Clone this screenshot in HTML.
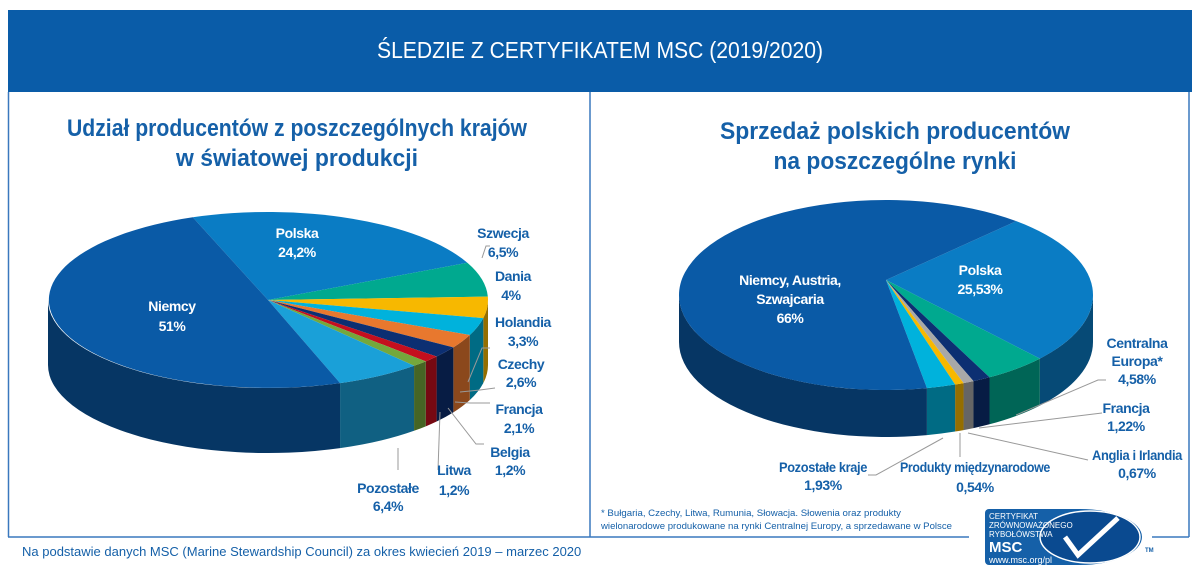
<!DOCTYPE html>
<html><head><meta charset="utf-8"><style>
html,body{margin:0;padding:0;background:#fff;width:1200px;height:574px;overflow:hidden}
svg{display:block}
text{font-family:"Liberation Sans Narrow","Liberation Sans",sans-serif;font-weight:bold}
.lb text{letter-spacing:-0.4px}
</style></head><body>
<svg id="s" width="1200" height="574" viewBox="0 0 1200 574" xmlns="http://www.w3.org/2000/svg">
<rect x="0" y="0" width="1200" height="574" fill="#fff"/>
<rect x="8" y="10" width="1184" height="82" fill="#0a5ca8"/>
<text x="600" y="58" fill="#fff" font-size="23" text-anchor="middle" textLength="446" lengthAdjust="spacingAndGlyphs" style="font-weight:normal">ŚLEDZIE Z CERTYFIKATEM MSC (2019/2020)</text>
<line x1="8.5" y1="92" x2="8.5" y2="537" stroke="#3a78be" stroke-width="1.5"/>
<line x1="1189" y1="92" x2="1189" y2="537" stroke="#3a78be" stroke-width="1.5"/>
<line x1="590" y1="92" x2="590" y2="537" stroke="#3a78be" stroke-width="1.5"/>
<line x1="8" y1="537" x2="969" y2="537" stroke="#3a78be" stroke-width="1.5"/>
<line x1="1152" y1="537" x2="1189" y2="537" stroke="#3a78be" stroke-width="1.5"/>
<g fill="#1560a8" font-size="24" text-anchor="middle">
<text x="297" y="136" textLength="460" lengthAdjust="spacingAndGlyphs">Udział producentów z poszczególnych krajów</text>
<text x="297" y="166" textLength="242" lengthAdjust="spacingAndGlyphs">w światowej produkcji</text>
<text x="895" y="139" textLength="350" lengthAdjust="spacingAndGlyphs">Sprzedaż polskich producentów</text>
<text x="895" y="169" textLength="243" lengthAdjust="spacingAndGlyphs">na poszczególne rynki</text>
</g>
<g id="p1"></g><g id="p2"></g>
<g stroke="#999" fill="none" stroke-width="1">
<polyline points="482,258 486,246 490,246"/>
<polyline points="468,382 482,348 490,348"/>
<polyline points="460,392 480,390 495,388"/>
<polyline points="455,402 470,403 490,403"/>
<polyline points="448,408 476,444 484,444"/>
<polyline points="440,412 438,470"/>
<polyline points="398,448 398,470"/>
<polyline points="1016,415 1098,380 1106,380"/>
<polyline points="979,428 1102,413"/>
<polyline points="968,433 1088,460"/>
<polyline points="943,438 876,475 868,475"/>
<polyline points="960,433 960,457"/>
</g>
<g class="lb" font-size="14" text-anchor="middle">
<g fill="#fff">
<text x="297" y="238">Polska</text><text x="297" y="257">24,2%</text>
<text x="172" y="311">Niemcy</text><text x="172" y="331">51%</text>
<text x="790" y="285">Niemcy, Austria,</text><text x="790" y="304">Szwajcaria</text><text x="790" y="323">66%</text>
<text x="980" y="275">Polska</text><text x="980" y="294">25,53%</text>
</g>
<g fill="#1560a8">
<text x="503" y="238">Szwecja</text><text x="503" y="257">6,5%</text>
<text x="513" y="281">Dania</text><text x="511" y="300">4%</text>
<text x="523" y="327">Holandia</text><text x="523" y="346">3,3%</text>
<text x="521" y="369">Czechy</text><text x="521" y="387">2,6%</text>
<text x="519" y="414">Francja</text><text x="519" y="433">2,1%</text>
<text x="510" y="457">Belgia</text><text x="510" y="475">1,2%</text>
<text x="454" y="475">Litwa</text><text x="454" y="495">1,2%</text>
<text x="388" y="493">Pozostałe</text><text x="388" y="511">6,4%</text>
<text x="1137" y="348">Centralna</text><text x="1137" y="366">Europa*</text><text x="1137" y="384">4,58%</text>
<text x="1126" y="413">Francja</text><text x="1126" y="431">1,22%</text>
<text x="1137" y="460" textLength="90" lengthAdjust="spacingAndGlyphs">Anglia i Irlandia</text><text x="1137" y="478">0,67%</text>
<text x="823" y="472" textLength="88" lengthAdjust="spacingAndGlyphs">Pozostałe kraje</text><text x="823" y="490">1,93%</text>
<text x="975" y="472" textLength="150" lengthAdjust="spacingAndGlyphs">Produkty międzynarodowe</text><text x="975" y="492">0,54%</text>
</g></g>
<g fill="#1560a8" font-size="9.5">
<text x="601" y="516" textLength="300" lengthAdjust="spacingAndGlyphs" style="font-weight:normal">* Bułgaria, Czechy, Litwa, Rumunia, Słowacja. Słowenia oraz produkty</text>
<text x="601" y="529" textLength="351" lengthAdjust="spacingAndGlyphs" style="font-weight:normal">wielonarodowe produkowane na rynki Centralnej Europy, a sprzedawane w Polsce</text>
</g>
<text x="22" y="556" fill="#1560a8" font-size="13" style="font-weight:normal">Na podstawie danych MSC (Marine Stewardship Council) za okres kwiecień 2019 – marzec 2020</text>
<path d="M989 509 H1080 A62 28 0 0 1 1080 565 H989 a4 4 0 0 1 -4 -4 V513 a4 4 0 0 1 4 -4 Z" fill="#1560a8"/>
<ellipse cx="1090" cy="537" rx="50" ry="26" fill="#0a4a90" stroke="#fff" stroke-width="1.5"/>
<path d="M1065 537 L1078 555 L1118 518" stroke="#fff" stroke-width="5" fill="none"/>
<text x="1145" y="552" fill="#1560a8" font-size="6">TM</text>
<g fill="#fff" font-size="8">
<text x="989" y="519" style="font-weight:normal">CERTYFIKAT</text><text x="989" y="528" style="font-weight:normal">ZRÓWNOWAŻONEGO</text><text x="989" y="537" style="font-weight:normal">RYBOŁÓWSTWA</text>
<text x="989" y="552" font-size="15">MSC</text>
<text x="989" y="563" font-size="9" style="font-weight:normal">www.msc.org/pl</text>
</g>
</svg>
<script>
function shade(c,f){var n=parseInt(c.slice(1),16);var r=(n>>16)&255,g=(n>>8)&255,b=n&255;return"rgb("+Math.round(r*f)+","+Math.round(g*f)+","+Math.round(b*f)+")";}
function pie(id,cx,cy,rx,ry,d,ax,ay,sl){
 var g=document.getElementById(id);
 function P(t,dy){t=t*Math.PI/180;return(cx+rx*Math.cos(t)).toFixed(2)+","+(cy+dy+ry*Math.sin(t)).toFixed(2);}
 var h="";
 sl.forEach(function(s){
  for(var k=-1;k<=1;k++){var lo=Math.max(s[0],0+360*k),hi=Math.min(s[1],180+360*k);
   if(hi>lo){var p="M"+P(lo,0)+" A"+rx+","+ry+" 0 0 1 "+P(hi,0)+" L"+P(hi,d)+" A"+rx+","+ry+" 0 0 0 "+P(lo,d)+" Z";
    h+='<path d="'+p+'" fill="'+shade(s[2],0.6)+'"/>';}}
 });
 sl.forEach(function(s){var big=(s[1]-s[0])>180?1:0;
  h+='<path d="M'+ax+','+ay+' L'+P(s[0],0)+' A'+rx+','+ry+' 0 '+big+' 1 '+P(s[1],0)+' Z" fill="'+s[2]+'"/>';});
 g.innerHTML=h;
}
function seq(start,data){var tot=0;data.forEach(function(s){tot+=s[0]});var a=start,o=[];data.forEach(function(s){var b=a+s[0]/tot*360;o.push([a,b,s[1]]);a=b;});return o;}
pie("p1",268,300,220,88,65,268,300,seq(-110,[[24.2,"#0a7cc4"],[6.5,"#00a98f"],[4,"#f7b800"],[3.3,"#00b2dc"],[2.6,"#e8782e"],[2.1,"#0c2f72"],[1.2,"#c40f1e"],[1.2,"#74a83c"],[6.4,"#1aa0d8"],[51,"#0a5aa6"]]));
pie("p2",886,295,207,95,47,886,280,[[-51,42,"#0a7cc4"],[42,60,"#00a98f"],[60,65,"#0c2f72"],[65,68,"#a8a8a8"],[68,70.5,"#f7b800"],[70.5,78.6,"#00b2dc"],[78.6,309,"#0a5aa6"]]);
</script>
</body></html>
